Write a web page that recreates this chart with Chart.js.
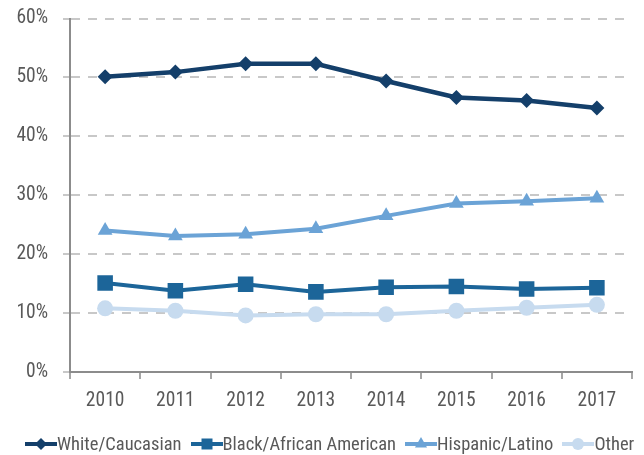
<!DOCTYPE html>
<html>
<head>
<meta charset="utf-8">
<script src="https://cdn.jsdelivr.net/npm/chart.js@4.4.1/dist/chart.umd.min.js"></script>
<style>
  html, body { margin: 0; padding: 0; background: #ffffff; }
  #wrap { position: relative; width: 644px; height: 455px; overflow: hidden; }
  #chart { position: absolute; left: 0; top: 0; }
  #legend { position: absolute; left: 25px; top: 432px; height: 24px; display: flex; align-items: center;
            font-family: 'Roboto Condensed', 'DejaVu Sans Condensed', sans-serif;
            font-size: 18.5px; color: #595959; white-space: nowrap; }
  .item { display: flex; align-items: center; margin-right: 9px; }
  .item canvas { display: block; }
</style>
</head>
<body>
<div id="wrap">
  <canvas id="chart" width="644" height="455"></canvas>
  <div id="legend"></div>
</div>
<script>
const years = ['2010', '2011', '2012', '2013', '2014', '2015', '2016', '2017'];
const seriesNames = ['White/Caucasian', 'Black/African American', 'Hispanic/Latino', 'Other'];
const white = [50.1, 50.9, 52.3, 52.3, 49.4, 46.6, 46.1, 44.8];
const black = [15.1, 13.8, 14.9, 13.6, 14.4, 14.5, 14.1, 14.3];
const hispanic = [24.0, 23.1, 23.4, 24.3, 26.5, 28.6, 29.0, 29.5];
const other = [10.8, 10.4, 9.6, 9.8, 9.8, 10.4, 10.9, 11.4];
const yTicks = [0, 10, 20, 30, 40, 50, 60];

const FONT = "'Roboto Condensed', 'DejaVu Sans Condensed', sans-serif";
const TEXT = '#595959';
const colors = ['#143F6A', '#1C6599', '#6BA3D6', '#C7DBEF'];
const styles = ['rectRot', 'rect', 'triangle', 'circle'];
const radii = [7.5, 11, 8.5, 8];
const widths = [4.5, 4, 4, 4];
const values = [white, black, hispanic, other];

const datasets = seriesNames.map((n, i) => ({
  label: n,
  data: values[i],
  borderColor: colors[i],
  backgroundColor: colors[i],
  pointBackgroundColor: colors[i],
  pointBorderColor: colors[i],
  pointBorderWidth: 0,
  pointStyle: styles[i],
  pointRadius: radii[i],
  pointHoverRadius: radii[i],
  borderWidth: widths[i],
  tension: 0,
  fill: false,
  order: 4 - i
}));

new Chart(document.getElementById('chart'), {
  type: 'line',
  data: { labels: years, datasets },
  options: {
    responsive: false,
    animation: false,
    devicePixelRatio: 1,
    layout: { padding: { top: 18.5, right: 12, left: 0, bottom: 0 } },
    plugins: { legend: { display: false }, tooltip: { enabled: false } },
    scales: {
      x: {
        offset: true,
        grid: { offset: true, drawOnChartArea: false, drawTicks: true, tickLength: 7, color: '#A6A6A6', lineWidth: 2 },
        border: { display: true, color: '#8C8C8C', width: 2 },
        ticks: { color: TEXT, font: { family: FONT, size: 19.5 }, padding: 10, maxRotation: 0 },
        afterFit: s => { s.height = 83; s.paddingLeft = 0; s.paddingRight = 0; }
      },
      y: {
        min: 0, max: 60,
        afterBuildTicks: s => { s.ticks = yTicks.map(v => ({ value: v })); },
        grid: { color: '#C8C8C8', lineWidth: 2, tickLength: 7, drawTicks: true },
        border: { display: true, color: '#8C8C8C', width: 2, dash: [9, 8] },
        ticks: { color: TEXT, font: { family: FONT, size: 19.5 }, padding: 15, callback: v => v + '%' },
        afterFit: s => { s.width = 70; s.paddingTop = 0; s.paddingBottom = 0; }
      }
    }
  }
});

// legend
function drawSym(ctx, style, color, lw) {
  const cx = 16, cy = 10;
  ctx.strokeStyle = color; ctx.fillStyle = color; ctx.lineWidth = lw;
  ctx.beginPath(); ctx.moveTo(0, cy); ctx.lineTo(32, cy); ctx.stroke();
  ctx.beginPath();
  if (style === 'rectRot') {
    const r = 6; ctx.moveTo(cx, cy - r); ctx.lineTo(cx + r, cy); ctx.lineTo(cx, cy + r); ctx.lineTo(cx - r, cy);
  } else if (style === 'rect') {
    const s = 5.5; ctx.rect(cx - s, cy - s, 2 * s, 2 * s);
  } else if (style === 'triangle') {
    const r = 7; ctx.moveTo(cx, cy - r); ctx.lineTo(cx + r * 0.866, cy + r * 0.5); ctx.lineTo(cx - r * 0.866, cy + r * 0.5);
  } else {
    ctx.arc(cx, cy, 6, 0, Math.PI * 2);
  }
  ctx.closePath(); ctx.fill();
}
const legend = document.getElementById('legend');
seriesNames.forEach((n, i) => {
  const item = document.createElement('div'); item.className = 'item';
  const c = document.createElement('canvas'); c.width = 32; c.height = 20;
  drawSym(c.getContext('2d'), styles[i], colors[i], 4);
  const t = document.createElement('span'); t.textContent = n;
  item.appendChild(c); item.appendChild(t); legend.appendChild(item);
});
</script>
</body>
</html>
